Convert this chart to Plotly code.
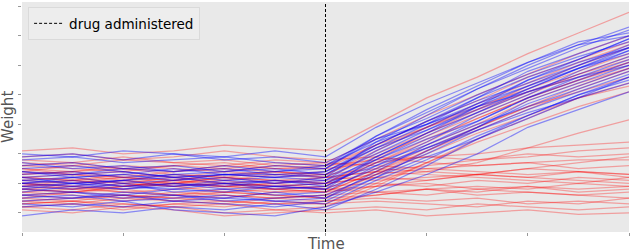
import plotly.graph_objects as go

times = [0, 5, 10, 15, 20, 25, 30, 35, 40, 45, 50, 55, 60]
drug_time = 30

blue_lines = [
    [1.0, 1.1, 0.9, 1.0, 0.8, 0.9, 1.0, 1.9, 2.7, 3.4, 4.1, 4.7, 5.3],
    [1.4, 1.3, 1.5, 1.4, 1.5, 1.3, 1.4, 2.3, 3.1, 3.9, 4.6, 5.2, 5.9],
    [0.6, 0.7, 0.5, 0.6, 0.4, 0.5, 0.6, 1.3, 2.0, 2.8, 3.5, 4.1, 4.7],
    [1.8, 1.9, 1.7, 1.8, 1.9, 1.7, 1.6, 2.6, 3.4, 4.2, 4.9, 5.6, 6.2],
    [0.3, 0.2, 0.4, 0.1, 0.0, -0.1, 0.2, 0.7, 1.3, 2.0, 2.9, 3.5, 4.1],
    [1.2, 1.0, 1.1, 1.3, 1.1, 1.2, 1.1, 2.1, 2.9, 3.7, 4.5, 5.1, 5.6],
    [0.9, 0.8, 1.0, 0.7, 0.8, 0.6, 0.7, 1.6, 2.4, 3.3, 4.0, 4.8, 5.5],
    [1.6, 1.7, 1.5, 1.6, 1.4, 1.5, 1.3, 2.2, 2.8, 3.5, 4.2, 4.9, 5.4],
    [0.5, 0.6, 0.4, 0.5, 0.6, 0.4, 0.3, 1.1, 1.8, 2.6, 3.3, 4.0, 4.5],
    [1.1, 1.2, 1.3, 1.1, 1.2, 1.0, 1.2, 2.4, 3.3, 4.2, 5.0, 5.7, 6.3],
    [0.8, 0.7, 0.6, 0.8, 0.7, 0.9, 0.8, 1.5, 2.2, 2.9, 3.7, 4.3, 4.9],
    [1.3, 1.4, 1.2, 1.3, 1.4, 1.6, 1.5, 2.5, 3.2, 4.0, 4.7, 5.3, 5.8],
    [0.7, 0.9, 0.8, 0.9, 1.0, 0.8, 0.9, 1.8, 2.6, 3.4, 4.2, 4.9, 5.6],
    [2.0, 1.9, 2.1, 2.0, 1.8, 1.9, 1.7, 2.5, 3.0, 3.7, 4.3, 4.9, 5.5],
    [0.2, 0.3, 0.2, 0.4, 0.3, 0.2, 0.4, 1.2, 2.1, 2.9, 3.8, 4.4, 5.0],
    [1.0, 0.9, 1.1, 1.2, 1.0, 1.1, 0.9, 1.7, 2.3, 3.0, 3.6, 4.2, 4.8],
    [1.5, 1.6, 1.4, 1.2, 1.3, 1.2, 1.3, 2.3, 3.1, 3.8, 4.4, 5.0, 5.6],
    [0.4, 0.5, 0.7, 0.6, 0.5, 0.7, 0.5, 1.4, 2.3, 3.1, 3.9, 4.6, 5.2],
    [1.7, 1.5, 1.6, 1.4, 1.6, 1.4, 1.5, 2.6, 3.5, 4.3, 5.1, 5.8, 6.1],
    [0.9, 1.0, 0.8, 1.0, 0.9, 1.1, 1.0, 1.6, 2.2, 2.8, 3.4, 3.9, 4.4],
    [1.2, 1.3, 1.4, 1.2, 1.3, 1.3, 1.2, 2.0, 2.8, 3.6, 4.5, 5.2, 5.9],
    [0.6, 0.5, 0.6, 0.4, 0.5, 0.4, 0.5, 1.2, 1.9, 2.5, 3.2, 3.9, 4.6],
    [1.9, 2.0, 1.8, 2.0, 1.9, 2.1, 1.9, 2.9, 3.7, 4.4, 5.1, 5.7, 6.0],
    [1.1, 1.0, 0.9, 0.8, 1.0, 0.9, 0.8, 1.9, 2.7, 3.6, 4.3, 5.0, 5.7],
    [0.8, 1.0, 1.1, 0.9, 1.1, 1.0, 1.1, 1.8, 2.5, 3.1, 3.9, 4.5, 5.1],
    [1.4, 1.2, 1.3, 1.5, 1.3, 1.4, 1.6, 2.4, 3.0, 3.6, 4.1, 4.6, 5.0],
    [-0.1, 0.1, 0.0, 0.2, 0.1, 0.3, 0.1, 0.8, 1.6, 2.5, 3.3, 4.0, 4.6],
    [1.0, 1.2, 1.0, 1.1, 1.3, 1.2, 1.4, 2.2, 3.0, 3.9, 4.8, 5.4, 6.0],
]

red_lines = [
    [2.1, 2.2, 2.0, 2.1, 2.3, 2.2, 2.1, 3.0, 3.9, 4.6, 5.4, 6.1, 6.8],
    [1.0, 0.9, 1.1, 1.0, 1.2, 1.1, 1.0, 1.7, 2.4, 3.2, 3.9, 4.5, 5.0],
    [0.5, 0.7, 0.6, 0.5, 0.7, 0.6, 0.5, 1.3, 2.1, 2.9, 3.6, 4.3, 4.9],
    [1.3, 1.4, 1.5, 1.3, 1.2, 1.4, 1.3, 2.1, 2.9, 3.7, 4.4, 5.1, 5.7],
    [0.8, 0.7, 0.9, 1.0, 0.9, 1.0, 1.2, 1.9, 2.6, 3.3, 4.0, 4.7, 5.3],
    [1.6, 1.5, 1.4, 1.6, 1.5, 1.7, 1.6, 2.3, 2.9, 3.5, 4.1, 4.7, 5.2],
    [0.2, 0.1, 0.3, 0.2, 0.0, 0.1, 0.2, 0.9, 1.7, 2.5, 3.2, 3.9, 4.4],
    [1.1, 1.2, 1.0, 1.2, 1.1, 0.9, 1.0, 1.8, 2.7, 3.5, 4.3, 5.0, 5.6],
    [0.7, 0.8, 0.7, 0.6, 0.8, 0.7, 0.8, 1.5, 2.3, 3.0, 3.8, 4.4, 4.9],
    [1.5, 1.3, 1.4, 1.2, 1.4, 1.3, 1.4, 2.2, 2.9, 3.6, 4.2, 4.8, 5.4],
    [0.9, 1.1, 1.2, 1.1, 1.3, 1.4, 1.3, 2.0, 2.7, 3.4, 4.1, 4.6, 5.1],
    [1.8, 1.7, 1.9, 1.7, 1.8, 1.6, 1.7, 2.5, 3.3, 4.0, 4.7, 5.4, 6.0],
    [0.4, 0.3, 0.5, 0.4, 0.3, 0.5, 0.6, 1.3, 2.0, 2.7, 3.3, 3.9, 4.3],
    [1.2, 1.1, 1.0, 0.9, 1.0, 0.8, 0.9, 1.7, 2.5, 3.2, 3.9, 4.5, 5.1],
    [0.6, 0.5, 0.4, 0.6, 0.5, 0.7, 0.7, 1.4, 2.1, 2.8, 3.5, 4.2, 4.8],
    [1.4, 1.6, 1.5, 1.4, 1.6, 1.5, 1.5, 2.3, 3.1, 3.8, 4.6, 5.2, 5.8],
    [1.0, 0.8, 0.9, 1.1, 0.9, 0.8, 0.7, 1.4, 2.2, 2.9, 3.6, 4.1, 4.6],
    [0.3, 0.4, 0.2, 0.3, 0.4, 0.3, 0.3, 1.0, 1.7, 2.4, 3.0, 3.6, 4.1],
    [1.0, 1.1, 0.9, 1.0, 1.2, 1.1, 1.0, 1.2, 1.4, 1.7, 2.2, 2.7, 3.15],
    [1.5, 1.4, 1.6, 1.5, 1.4, 1.6, 1.5, 1.7, 1.9, 2.0, 2.2, 2.3, 2.4],
    [0.8, 0.9, 0.7, 0.8, 0.9, 0.8, 0.7, 0.9, 1.1, 1.3, 1.5, 1.7, 1.9],
    [1.2, 1.3, 1.1, 1.3, 1.2, 1.0, 1.1, 1.3, 1.5, 1.6, 1.7, 1.8, 1.8],
    [0.5, 0.4, 0.6, 0.5, 0.4, 0.3, 0.4, 0.6, 0.8, 0.7, 0.9, 0.8, 0.9],
    [1.9, 2.0, 1.8, 1.9, 2.1, 1.9, 1.8, 1.9, 1.7, 1.6, 1.7, 1.5, 1.6],
    [0.9, 0.8, 1.0, 0.9, 0.7, 0.8, 0.9, 1.0, 0.9, 1.1, 1.0, 1.2, 1.1],
    [0.1, 0.0, 0.2, 0.1, -0.1, 0.0, 0.1, 0.2, 0.1, 0.3, 0.2, 0.1, 0.2],
    [1.3, 1.4, 1.2, 1.1, 1.3, 1.2, 1.3, 1.5, 1.4, 1.3, 1.5, 1.4, 1.3],
    [0.7, 0.6, 0.5, 0.7, 0.6, 0.5, 0.6, 0.7, 0.6, 0.8, 0.7, 0.6, 0.7],
    [1.1, 1.0, 1.2, 1.0, 1.1, 1.3, 1.2, 1.4, 1.3, 1.2, 1.1, 1.0, 1.2],
    [0.3, 0.4, 0.3, 0.2, 0.3, 0.1, 0.0, 0.1, -0.1, 0.0, 0.1, -0.05, 0.0],
    [1.6, 1.7, 1.5, 1.6, 1.7, 1.5, 1.6, 1.8, 1.9, 1.8, 2.0, 1.9, 2.0],
    [1.0, 0.9, 0.8, 1.0, 0.9, 1.0, 0.8, 0.9, 1.0, 0.8, 0.9, 0.7, 0.8],
    [0.4, 0.5, 0.6, 0.4, 0.6, 0.5, 0.4, 0.5, 0.4, 0.5, 0.3, 0.4, 0.3],
    [1.4, 1.3, 1.2, 1.4, 1.5, 1.4, 1.2, 1.1, 1.2, 1.3, 1.2, 1.1, 1.0],
    [0.6, 0.7, 0.8, 0.6, 0.7, 0.6, 0.5, 0.6, 0.8, 0.9, 0.8, 1.0, 0.9],
    [1.2, 1.1, 1.3, 1.2, 1.0, 1.1, 1.2, 1.4, 1.6, 1.8, 1.9, 2.1, 2.2],
    [0.2, 0.3, 0.1, 0.3, 0.2, 0.4, 0.3, 0.4, 0.3, 0.2, 0.4, 0.3, 0.5],
    [0.9, 1.0, 1.1, 0.9, 1.0, 0.9, 0.8, 0.7, 0.8, 0.6, 0.7, 0.6, 0.5],
    [1.7, 1.6, 1.8, 1.7, 1.6, 1.8, 1.7, 1.6, 1.5, 1.4, 1.3, 1.4, 1.2],
    [0.8, 0.7, 0.9, 1.1, 1.0, 0.9, 1.0, 1.2, 1.1, 1.3, 1.2, 1.4, 1.3],
]

y_min, y_max = -0.65, 7.15
x_min, x_max = 0, 60

fig = go.Figure()

for ys in red_lines:
    fig.add_trace(go.Scatter(x=times, y=ys, mode="lines", showlegend=False,
                             hoverinfo="skip",
                             line=dict(color="rgba(255,0,0,0.32)", width=1.25)))
for ys in blue_lines:
    fig.add_trace(go.Scatter(x=times, y=ys, mode="lines", showlegend=False,
                             hoverinfo="skip",
                             line=dict(color="rgba(0,0,255,0.42)", width=1.25)))

fig.add_trace(go.Scatter(x=[drug_time, drug_time], y=[y_min, y_max], mode="lines",
                         name="drug administered",
                         line=dict(color="black", width=1, dash="3px,2px")))

axis_common = dict(showgrid=False, zeroline=False, showticklabels=False,
                   ticks="outside", ticklen=3, tickcolor="#999999", tickwidth=1,
                   showline=False, automargin=False)

fig.update_layout(
    width=630, height=252,
    margin=dict(l=22, r=1, t=2, b=20, autoexpand=False),
    paper_bgcolor="white",
    plot_bgcolor="#e9e9e9",
    font=dict(family="DejaVu Sans", color="#555555"),
    xaxis=dict(range=[x_min, x_max], tickvals=[0, 10, 20, 30, 40, 50, 60], **axis_common),
    yaxis=dict(range=[y_min, y_max], tickvals=[0, 1, 2, 3, 4, 5, 6, 7], **axis_common),
    legend=dict(x=0.01, y=0.978, xanchor="left", yanchor="top",
                bgcolor="rgba(237,237,237,0.9)", bordercolor="#dadada", borderwidth=1,
                font=dict(family="DejaVu Sans", size=13.5, color="black"),
                itemwidth=30, tracegroupgap=0),
    annotations=[
        dict(text="Weight", x=-14 / 607, y=0.5, xref="paper", yref="paper", showarrow=False,
             xanchor="center", yanchor="middle",
             textangle=-90, font=dict(size=15, color="#555555")),
        dict(text="Time", x=0.5, y=0, xref="paper", yref="paper", yanchor="top",
             yshift=-1, showarrow=False, font=dict(size=15, color="#555555")),
    ],
)

fig.write_html("out.html", config={"displayModeBar": False},
               post_script="document.body.style.margin='0';")
